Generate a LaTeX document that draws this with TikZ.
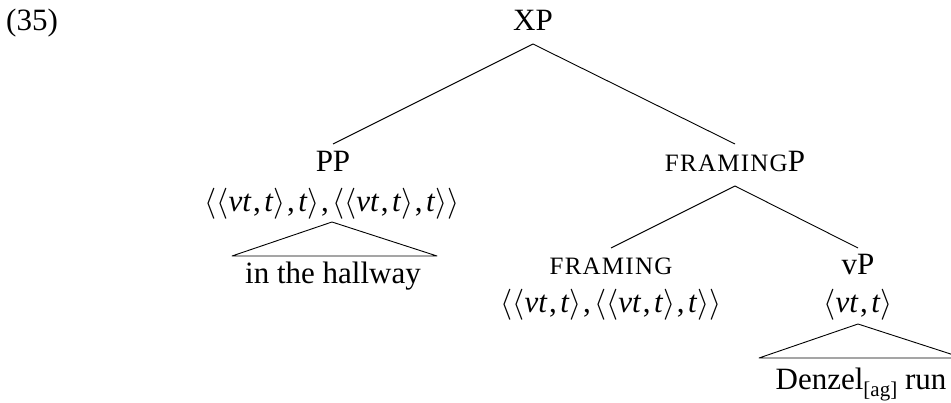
\documentclass[tikz,border=0pt]{standalone}
\usepackage{fix-cm}
\usepackage{fontspec}
\setmainfont{Liberation Serif}
\newfontfamily\scfont[LetterSpace=5]{Liberation Serif}
\newcommand\Lb{$\langle$}
\newcommand\Rb{$\rangle$}
\newcommand\VT{\textit{vt}}
\newcommand\TT{\textit{t}}
\newcommand\Cm{\kern1.5pt,\kern3.5pt}
\newcommand\SC[1]{{\fontsize{25}{25}\scfont #1}}
\begin{document}
\begin{tikzpicture}[x=1pt,y=-1pt,
  every node/.style={inner sep=0pt,anchor=base,font=\fontsize{31}{37}\selectfont},
  edge/.style={line width=0.9pt,line join=round}]
\useasboundingbox (0,0) rectangle (951,403);
\clip (0,0) rectangle (951,403);
\node[anchor=base west] (num) at (6,31) {(35)};
\node (xp) at (533,31) {XP};
\node (pp) at (333,172) {PP};
\node (ppt) at (332,212) {\Lb\Lb\VT\Cm\TT\Rb\Cm\TT\Rb\Cm\Lb\Lb\VT\Cm\TT\Rb\Cm\TT\Rb\Rb};
\node (hall) at (333,284) {in the hallway};
\node (fp) at (735,172) {\SC{FRAMING}P};
\node (fr) at (611,275) {\SC{FRAMING}};
\node (frt) at (611,313) {\Lb\Lb\VT\Cm\TT\Rb\Cm\Lb\Lb\VT\Cm\TT\Rb\Cm\TT\Rb\Rb};
\node (vp) at (858,275) {vP};
\node (vpt) at (858,313) {\Lb\VT\Cm\TT\Rb};
\node (den) at (861,389) {Denzel\raisebox{-7pt}{\fontsize{21}{21}\selectfont[ag]} run};
\draw[edge] ([yshift=-13pt]xp.base) -- ([yshift=28pt]pp.base);
\draw[edge] ([yshift=-13pt]xp.base) -- ([yshift=28pt]fp.base);
\draw[edge] ([yshift=-14pt]fp.base) -- ([yshift=27pt]fr.base);
\draw[edge] ([yshift=-14pt]fp.base) -- ([yshift=27pt]vp.base);
\draw[edge] ([yshift=-10pt]ppt.base) -- ([xshift=-101pt,yshift=28pt]hall.base)
  -- ([xshift=104pt,yshift=28pt]hall.base) -- cycle;
\draw[edge] ([yshift=-11pt]vpt.base) -- ([xshift=-102pt,yshift=31pt]den.base)
  -- ([xshift=102pt,yshift=31pt]den.base) -- cycle;
\end{tikzpicture}
\end{document}
